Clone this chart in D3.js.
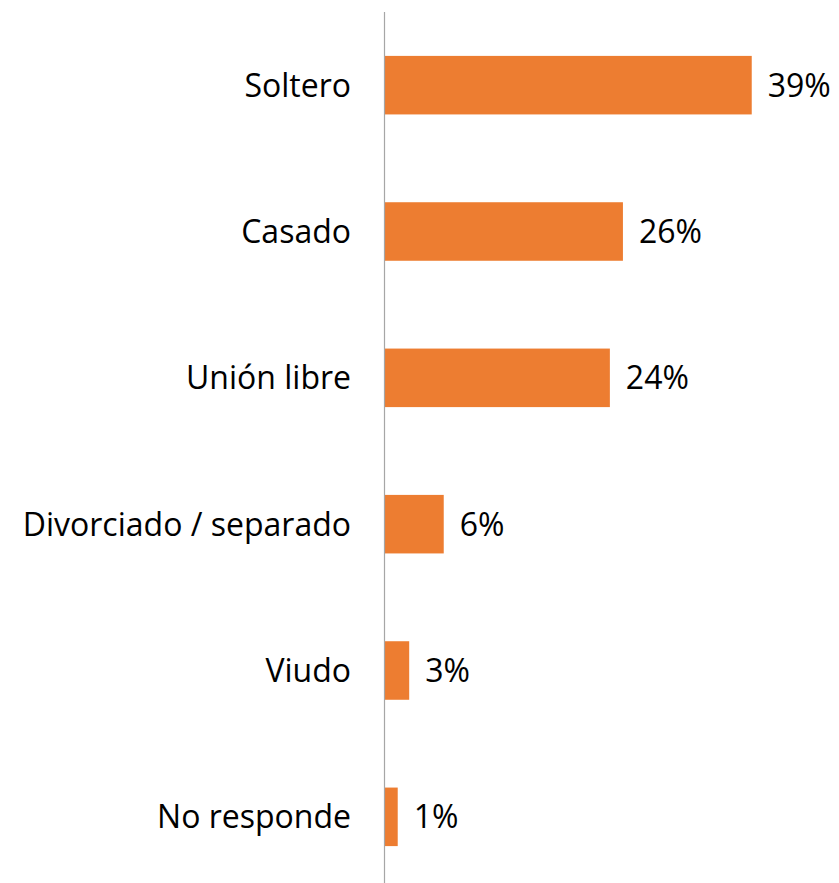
<!DOCTYPE html>
<html>
<head>
<meta charset="utf-8">
<script src="https://cdn.jsdelivr.net/npm/d3@7"></script>
<style>
  body { margin: 0; background: #fff; }
  svg text { font-family: "Open Sans", "Noto Sans", sans-serif; fill: #000; }
</style>
</head>
<body>
<div id="chart"></div>
<script>
// estado civil
const categories = ["Soltero", "Casado", "Unión libre", "Divorciado / separado", "Viudo", "No responde"];
const values = [39.4, 25.6, 24.2, 6.4, 2.7, 1.47]; // percent
const valueLabels = values.map(v => Math.round(v) + "%");

const width = 839, height = 883;
const axisX = 384;
const fontSize = "32px";

const svg = d3.select("#chart").append("svg")
    .attr("width", width).attr("height", height);

const x = d3.scaleLinear().domain([0, 45]).range([axisX, axisX + 420]);
const y = d3.scaleBand().domain(categories).range([12, 890])
    .paddingInner(0.6).paddingOuter(0.3);

// bars
svg.selectAll("rect.bar")
    .data(values)
    .join("rect")
    .classed("bar", true)
    .attr("x", x(0))
    .attr("y", (d, i) => y(categories[i]))
    .attr("width", d => x(d) - x(0))
    .attr("height", y.bandwidth())
    .attr("fill", "#ED7D31");

// value labels
svg.selectAll("text.val")
    .data(values)
    .join("text")
    .classed("val", true)
    .attr("x", d => x(d) + 16)
    .attr("y", (d, i) => y(categories[i]) + y.bandwidth() / 2)
    .attr("dy", "0.36em")
    .style("font-size", fontSize)
    .text((d, i) => valueLabels[i]);

// category axis
const axis = svg.append("g")
    .attr("transform", `translate(${axisX},0)`)
    .call(d3.axisLeft(y).tickSize(0).tickPadding(33));
axis.select(".domain").attr("stroke", "#a6a6a6").attr("stroke-width", 1.2)
    .attr("d", `M0.5,12V${height}`);
axis.selectAll(".tick text")
    .style("font-size", fontSize)
    .attr("font-family", null)
    .attr("dy", "0.36em");
</script>
</body>
</html>
